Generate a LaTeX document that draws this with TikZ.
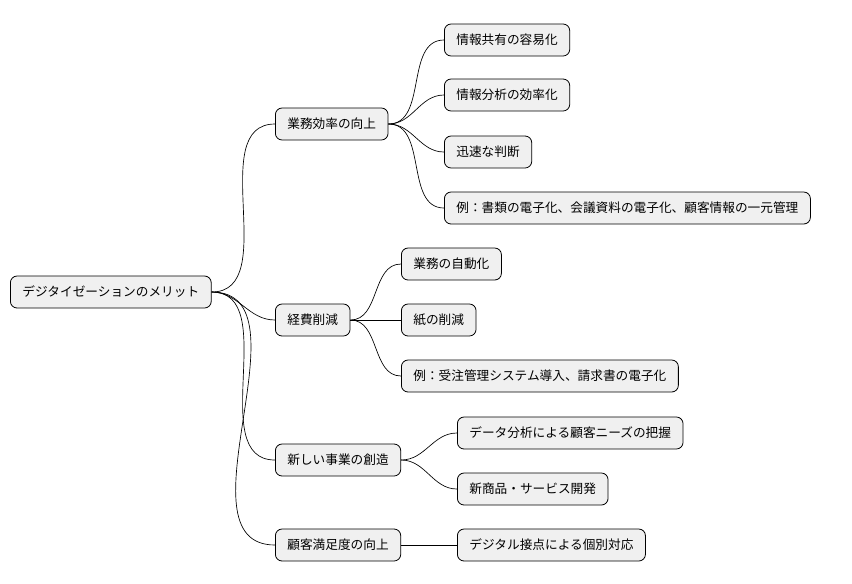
\documentclass[tikz,border=0pt]{standalone}
\usepackage{fontspec}
\setmainfont{Noto Sans CJK JP}
\begin{document}
\begin{tikzpicture}[x=0.75pt,y=-0.75pt,
    topic/.style={draw=black,fill=black!6,rounded corners=5pt,line width=0.6pt,
        anchor=west,inner xsep=9pt,minimum height=24pt,font=\fontsize{9.5pt}{11pt}\selectfont},
    branch/.style={line width=0.5pt,out=0,in=180}]
\useasboundingbox (0,0) rectangle (852,583);
\node[topic] (root) at (10,292) {デジタイゼーションのメリット};
\node[topic] (work) at (275,124) {業務効率の向上};
\node[topic] (cost) at (275,320) {経費削減};
\node[topic] (biz) at (275,460) {新しい事業の創造};
\node[topic] (cust) at (275,545) {顧客満足度の向上};
\node[topic] (w1) at (444,40) {情報共有の容易化};
\node[topic] (w2) at (444,95) {情報分析の効率化};
\node[topic] (w3) at (444,152) {迅速な判断};
\node[topic] (w4) at (444,208) {例：書類の電子化、会議資料の電子化、顧客情報の一元管理};
\node[topic] (c1) at (401,264) {業務の自動化};
\node[topic] (c2) at (401,320) {紙の削減};
\node[topic] (c3) at (401,376) {例：受注管理システム導入、請求書の電子化};
\node[topic] (b1) at (457,433) {データ分析による顧客ニーズの把握};
\node[topic] (b2) at (457,489) {新商品・サービス開発};
\node[topic] (u1) at (457,545) {デジタル接点による個別対応};
\foreach \kid in {work,cost,biz,cust}
    \draw[branch] (root.east) to (\kid.west);
\foreach \kid in {w1,w2,w3,w4}
    \draw[branch] (work.east) to (\kid.west);
\foreach \kid in {c1,c2,c3}
    \draw[branch] (cost.east) to (\kid.west);
\foreach \kid in {b1,b2}
    \draw[branch] (biz.east) to (\kid.west);
\draw[branch] (cust.east) to (u1.west);
\end{tikzpicture}
\end{document}
